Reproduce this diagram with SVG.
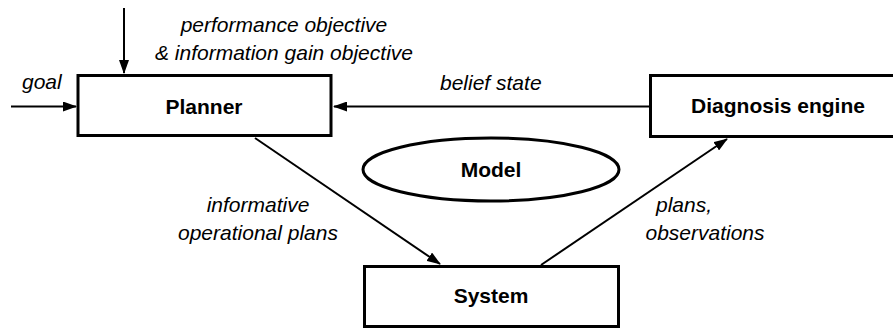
<svg xmlns="http://www.w3.org/2000/svg" width="893" height="329" viewBox="0 0 893 329">
<style>
.box{fill:#fff;stroke:#000;stroke-width:3}
.lbl{font-family:"Liberation Sans",Arial,sans-serif;font-size:21px;font-weight:bold;text-anchor:middle;fill:#000}
.it{font-family:"Liberation Sans",Arial,sans-serif;font-size:21px;font-style:italic;fill:#000}
.ln{stroke:#000;stroke-width:2;fill:none;marker-end:url(#ah)}
</style>
<defs>
<marker id="ah" markerWidth="14" markerHeight="10" refX="13" refY="5" orient="auto" markerUnits="userSpaceOnUse">
<path d="M0,0 L14,5 L0,10 Z" fill="#000"/>
</marker>
</defs>
<rect width="893" height="329" fill="#fff"/>
<g id="connectors">
<line class="ln" x1="124" y1="8" x2="124" y2="73"/>
<line class="ln" x1="11" y1="106.5" x2="76" y2="106.5"/>
<line class="ln" x1="649" y1="106.5" x2="334" y2="106.5"/>
<line class="ln" x1="255" y1="138" x2="440" y2="264"/>
<line class="ln" x1="541" y1="265" x2="727" y2="139"/>
</g>
<g id="labels">
<text class="it" x="284" y="32" text-anchor="middle">performance objective</text>
<text class="it" x="284" y="60" text-anchor="middle">&amp; information gain objective</text>
<text class="it" x="22" y="89">goal</text>
<text class="it" x="440" y="90">belief state</text>
<text class="it" x="258" y="212" text-anchor="middle">informative</text>
<text class="it" x="258" y="240" text-anchor="middle">operational plans</text>
<text class="it" x="684" y="212" text-anchor="middle">plans,</text>
<text class="it" x="705" y="240" text-anchor="middle">observations</text>
</g>
<g id="planner">
<rect class="box" x="78" y="75.5" width="253" height="60"/>
<text class="lbl" x="204" y="114">Planner</text>
</g>
<g id="diagnosis-engine">
<rect class="box" x="650.5" y="75.5" width="257" height="61"/>
<text class="lbl" x="778" y="113">Diagnosis engine</text>
</g>
<g id="model">
<ellipse cx="491" cy="169.5" rx="128" ry="31.5" fill="#fff" stroke="#000" stroke-width="3"/>
<text class="lbl" x="491" y="177">Model</text>
</g>
<g id="system">
<rect class="box" x="364.5" y="266.5" width="254" height="60"/>
<text class="lbl" x="491" y="303">System</text>
</g>
</svg>
